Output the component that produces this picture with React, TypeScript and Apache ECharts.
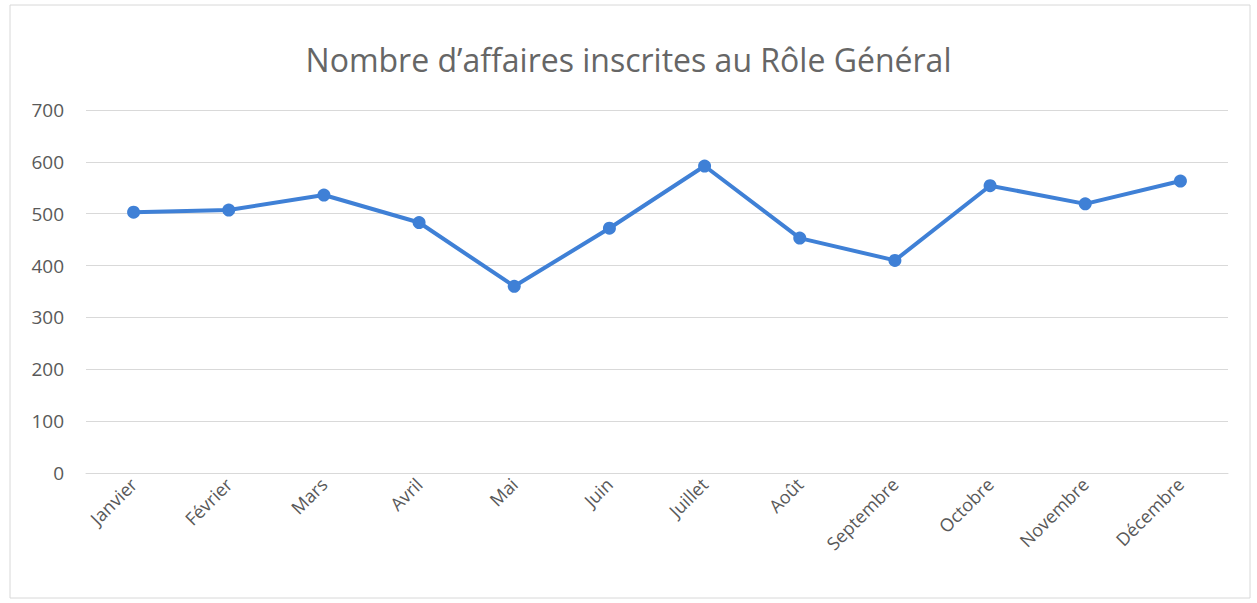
import React, { useEffect, useRef } from "react";
import * as echarts from "echarts";

const months = ["Janvier", "Février", "Mars", "Avril", "Mai", "Juin", "Juillet", "Août", "Septembre", "Octobre", "Novembre", "Décembre"];
const values = [503, 507, 536, 483, 360, 472, 592, 453, 410, 554, 519, 563];
const title = "Nombre d’affaires inscrites au Rôle Général";

export default function App() {
  const ref = useRef<HTMLDivElement>(null);
  useEffect(() => {
    const chart = echarts.init(ref.current!, null, { renderer: "svg" });
    chart.setOption({
      animation: false,
      backgroundColor: "#ffffff",
      title: {
        text: title,
        left: "center",
        top: 38,
        textStyle: { fontFamily: "Open Sans", fontSize: 32, fontWeight: "normal", color: "#666666" },
      },
      graphic: [
        {
          type: "rect",
          shape: { x: 10, y: 5, width: 1240, height: 593 },
          style: { fill: "none", stroke: "#d8d8d8", lineWidth: 1 },
          silent: true,
        },
      ],
      grid: { left: 86, right: 29, top: 110, bottom: 130 },
      xAxis: {
        type: "category",
        data: months,
        boundaryGap: true,
        axisLine: { show: true, lineStyle: { color: "#d9d9d9" } },
        axisTick: { show: false },
        axisLabel: { rotate: 45, margin: 8, fontFamily: "Open Sans", fontSize: 18, color: "#595959", interval: 0 },
      },
      yAxis: {
        type: "value",
        min: 0,
        max: 700,
        interval: 100,
        axisLine: { show: false },
        axisTick: { show: false },
        axisLabel: { margin: 22, fontFamily: "Open Sans", fontSize: 19, color: "#595959" },
        splitLine: { lineStyle: { color: "#d9d9d9", width: 1 } },
      },
      series: [
        {
          type: "line",
          data: values,
          symbol: "circle",
          symbolSize: 13,
          itemStyle: { color: "#3f80d6" },
          lineStyle: { color: "#3f80d6", width: 4 },
        },
      ],
    });
    return () => chart.dispose();
  }, []);
  return <div ref={ref} style={{ position: "fixed", left: 0, top: 0, width: 1257, height: 603 }} />;
}
